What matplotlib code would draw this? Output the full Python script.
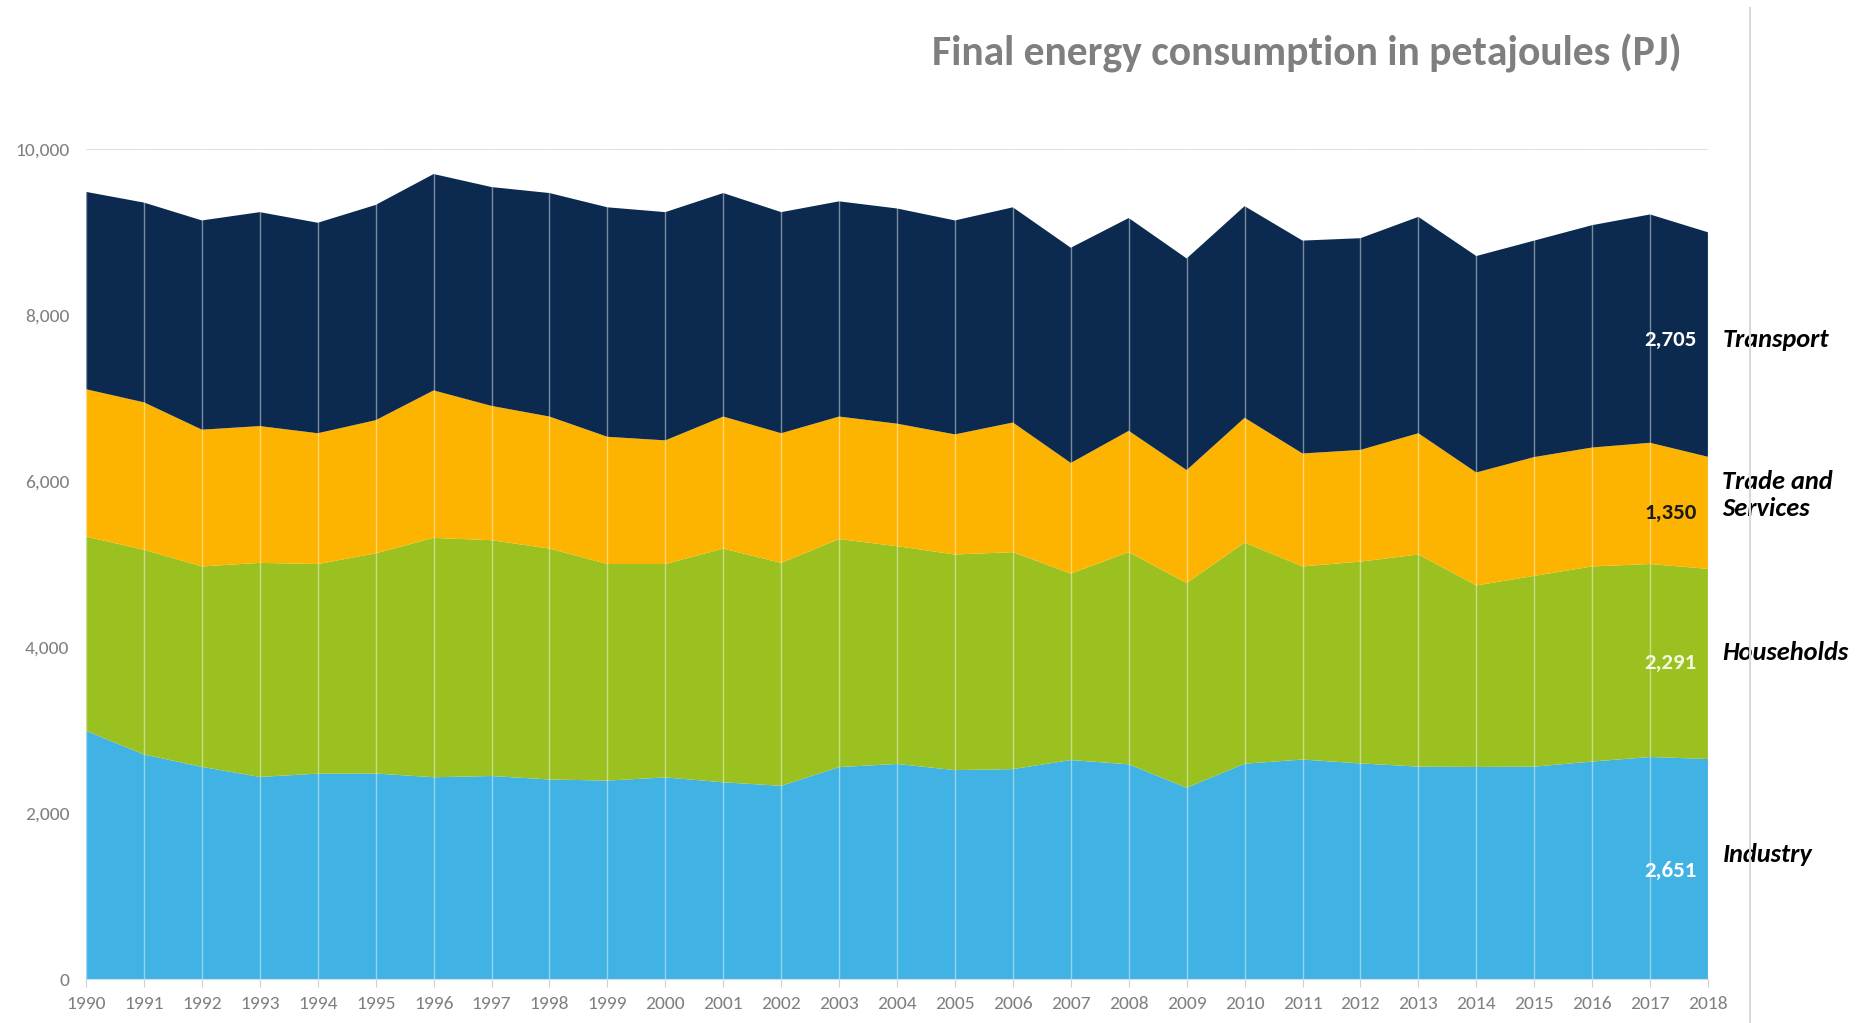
import matplotlib
matplotlib.use("Agg")
import matplotlib.pyplot as plt
from matplotlib.lines import Line2D
from matplotlib.ticker import FuncFormatter

years = list(range(1990, 2019))
industry = [2990, 2705, 2556, 2435, 2474, 2476, 2431, 2446, 2404, 2391,
            2429, 2370, 2328, 2553, 2591, 2517, 2529, 2638, 2587, 2304,
            2594, 2644, 2598, 2559, 2555, 2559, 2620, 2675, 2651]
households = [2340, 2467, 2415, 2579, 2526, 2653, 2884, 2841, 2782, 2609,
              2571, 2816, 2686, 2748, 2624, 2598, 2614, 2247, 2556, 2467,
              2664, 2327, 2431, 2556, 2187, 2298, 2351, 2325, 2291]
trade = [1776, 1776, 1648, 1648, 1576, 1604, 1777, 1618, 1591, 1533,
         1490, 1591, 1562, 1476, 1476, 1447, 1562, 1333, 1462, 1361,
         1504, 1361, 1346, 1461, 1361, 1432, 1433, 1461, 1350]
transport = [2378, 2407, 2521, 2578, 2536, 2594, 2607, 2637, 2693, 2765,
             2750, 2693, 2664, 2593, 2593, 2578, 2593, 2593, 2564, 2550,
             2550, 2565, 2551, 2607, 2608, 2608, 2679, 2751, 2705]

names = ["Industry", "Households", "Trade and\nServices", "Transport"]
colors = ["#40b2e3", "#9bc121", "#fdb400", "#0c2a50"]
value_colors = ["white", "#f4f8e0", "#1a1a1a", "white"]
# y positions for the end labels (data units)
value_y = [1300, 3810, 5615, 7700]
name_y = [1495, 3940, 5830, 7710]

calibri = ["Carlito", "DejaVu Sans"]
grey = "#7f7f7f"

fig = plt.figure(figsize=(18.63, 10.23), dpi=100)
ax = fig.add_axes([0.0462, 0.043, 0.8706, 0.8113])

ax.stackplot(years, industry, households, trade, transport,
             colors=colors, linewidth=0, zorder=2)

# faint year gridlines drawn over the areas
for y in years:
    ax.axvline(y, color="white", lw=1.0, alpha=0.45, zorder=3)
ax.axhline(10000, color="#d9d9d9", lw=1.2, zorder=1)

ax.set_xlim(1990, 2018)
ax.set_ylim(0, 10000)
ax.set_xticks(years)
ax.set_yticks([0, 2000, 4000, 6000, 8000, 10000])
ax.yaxis.set_major_formatter(FuncFormatter(lambda v, p: f"{int(v):,}"))
for s in ["top", "right", "left"]:
    ax.spines[s].set_visible(False)
ax.spines["bottom"].set_color("#d0dce8")
ax.tick_params(axis="x", length=6, color="#d0d0d0", pad=6, labelcolor=grey, labelsize=14)
ax.tick_params(axis="y", length=0, pad=12, labelcolor=grey, labelsize=14)
for lab in ax.get_xticklabels() + ax.get_yticklabels():
    lab.set_family(calibri)

totals_2018 = [industry[-1], households[-1], trade[-1], transport[-1]]
for v, vy, ny, nm, vc in zip(totals_2018, value_y, name_y, names, value_colors):
    ax.text(2017.8, vy, f"{v:,}", ha="right", va="center", color=vc,
            fontsize=16.5, fontweight="bold", family=calibri, zorder=5)
    ax.text(2018.25, ny, nm, ha="left", va="center", color="black",
            fontsize=19, fontweight="bold", style="italic",
            family=calibri, clip_on=False, linespacing=1.2)

fig.text(0.7015, 0.948, "Final energy consumption in petajoules (PJ)",
         ha="center", va="center", color=grey, fontsize=30, fontweight="bold",
         family=calibri)

fig.add_artist(Line2D([0.9393, 0.9393], [0.0, 0.992], transform=fig.transFigure,
                      color="#d9d9d9", lw=1.5))

fig.savefig("out.png", dpi=100, facecolor="white")
